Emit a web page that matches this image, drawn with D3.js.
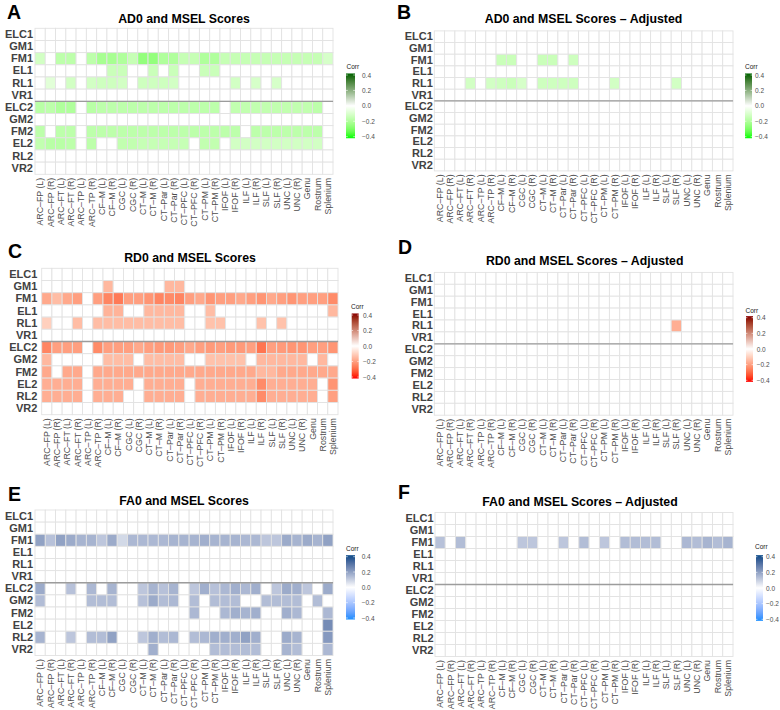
<!DOCTYPE html>
<html><head><meta charset="utf-8">
<script src="https://cdn.jsdelivr.net/npm/d3@7"></script>
<style>
body{margin:0;background:#fff}
svg{display:block}
text{font-family:"Liberation Sans",Arial,Helvetica,sans-serif}
</style>
</head><body>
<svg id="chart" width="780" height="710"></svg>
<script>
// ---------- data ----------
const tracts = ["ARC–FP (L)","ARC–FP (R)","ARC–FT (L)","ARC–FT (R)","ARC–TP (L)","ARC–TP (R)",
  "CF–M (L)","CF–M (R)","CGC (L)","CGC (R)","CT–M (L)","CT–M (R)","CT–Par (L)","CT–Par (R)",
  "CT–PFC (L)","CT–PFC (R)","CT–PM (L)","CT–PM (R)","IFOF (L)","IFOF (R)","ILF (L)","ILF (R)",
  "SLF (L)","SLF (R)","UNC (L)","UNC (R)","Genu","Rostrum","Splenium"];
const scores = ["ELC1","GM1","FM1","EL1","RL1","VR1","ELC2","GM2","FM2","EL2","RL2","VR2"];
const corrTicks = [0.4, 0.2, 0.0, -0.2, -0.4];
const titles = ["AD0 and MSEL Scores","AD0 and MSEL Scores – Adjusted","RD0 and MSEL Scores",
  "RD0 and MSEL Scores – Adjusted","FA0 and MSEL Scores","FA0 and MSEL Scores – Adjusted"];
const letters = ["A","B","C","D","E","F"];
// AD0 (rows ELC1..VR2, columns as tracts)
const ad0 = [
 [0,0,0,0,0,0,0,0,0,0,0,0,0,0,0,0,0,0,0,0,0,0,0,0,0,0,0,0,0],
 [0,0,0,0,0,0,0,0,0,0,0,0,0,0,0,0,0,0,0,0,0,0,0,0,0,0,0,0,0],
 [-.12,0,-.17,-.17,0,-.17,-.22,-.22,-.2,-.15,-.26,-.26,-.2,-.2,-.15,-.15,-.2,-.2,-.15,-.15,-.15,-.15,-.15,-.15,-.15,-.15,-.15,-.15,-.11],
 [0,0,0,0,0,0,0,-.14,-.14,0,0,-.14,0,-.14,0,0,-.14,-.14,0,0,0,0,0,0,0,0,0,0,0],
 [0,-.08,0,-.12,0,-.12,-.13,-.13,-.12,0,-.13,-.13,-.13,-.12,0,0,0,0,0,-.12,0,-.11,0,-.11,0,0,0,0,0],
 [0,0,0,0,0,0,0,0,0,0,0,0,0,0,0,0,0,0,0,0,0,0,0,0,0,0,0,0,0],
 [-.18,-.17,-.2,-.2,0,-.18,-.17,-.17,-.17,-.17,-.17,-.17,-.17,-.17,-.17,-.17,-.17,-.17,0,-.16,-.16,-.16,-.16,-.16,-.16,-.16,-.16,-.17,0],
 [0,0,0,0,0,0,0,0,0,0,0,0,0,0,0,0,0,0,0,0,0,0,0,0,0,0,0,0,0],
 [-.17,0,-.17,-.17,0,-.17,-.17,-.17,-.17,-.17,-.17,-.17,-.17,-.17,-.17,-.17,-.17,-.17,-.17,-.17,0,-.17,-.17,-.17,-.17,-.17,-.17,-.17,0],
 [-.16,-.18,-.18,-.17,0,-.17,0,0,-.16,-.16,-.15,-.15,-.15,-.15,-.15,0,-.16,-.16,0,-.12,-.12,-.12,-.12,-.12,-.12,-.12,-.12,-.12,0],
 [0,0,0,0,0,0,0,0,0,0,0,0,0,0,0,0,0,0,0,0,0,0,0,0,0,0,0,0,0],
 [0,0,0,0,0,0,0,0,0,0,0,0,0,0,0,0,0,0,0,0,0,0,0,0,0,0,0,0,0]
];
const ad0Adj = [
 [0,0,0,0,0,0,0,0,0,0,0,0,0,0,0,0,0,0,0,0,0,0,0,0,0,0,0,0,0],
 [0,0,0,0,0,0,0,0,0,0,0,0,0,0,0,0,0,0,0,0,0,0,0,0,0,0,0,0,0],
 [0,0,0,0,0,0,-.14,-.14,0,0,-.14,-.14,0,-.13,0,0,0,0,0,0,0,0,0,0,0,0,0,0,0],
 [0,0,0,0,0,0,0,0,0,0,0,0,0,0,0,0,0,0,0,0,0,0,0,0,0,0,0,0,0],
 [0,0,0,-.12,0,-.12,-.13,-.14,-.11,0,-.13,-.13,-.13,-.13,0,0,0,-.12,0,0,0,0,0,-.12,0,0,0,0,0],
 [0,0,0,0,0,0,0,0,0,0,0,0,0,0,0,0,0,0,0,0,0,0,0,0,0,0,0,0,0],
 [0,0,0,0,0,0,0,0,0,0,0,0,0,0,0,0,0,0,0,0,0,0,0,0,0,0,0,0,0],
 [0,0,0,0,0,0,0,0,0,0,0,0,0,0,0,0,0,0,0,0,0,0,0,0,0,0,0,0,0],
 [0,0,0,0,0,0,0,0,0,0,0,0,0,0,0,0,0,0,0,0,0,0,0,0,0,0,0,0,0],
 [0,0,0,0,0,0,0,0,0,0,0,0,0,0,0,0,0,0,0,0,0,0,0,0,0,0,0,0,0],
 [0,0,0,0,0,0,0,0,0,0,0,0,0,0,0,0,0,0,0,0,0,0,0,0,0,0,0,0,0],
 [0,0,0,0,0,0,0,0,0,0,0,0,0,0,0,0,0,0,0,0,0,0,0,0,0,0,0,0,0]
];
const rd0 = [
 [0,0,0,0,0,0,0,0,0,0,0,0,0,0,0,0,0,0,0,0,0,0,0,0,0,0,0,0,0],
 [0,0,0,0,0,0,-.15,0,0,0,0,0,-.15,-.15,0,0,0,0,0,0,0,0,0,0,0,0,0,0,0],
 [-.18,-.14,-.18,-.2,0,-.2,-.25,-.27,-.2,-.2,-.22,-.25,-.24,-.25,-.2,-.18,-.22,-.2,-.2,-.18,-.2,-.22,-.18,-.2,-.22,-.2,-.2,-.2,-.24],
 [0,0,0,0,0,0,-.16,-.16,0,0,-.15,-.15,-.15,-.15,0,0,-.14,0,0,0,0,0,0,0,0,0,0,0,-.15],
 [-.1,0,0,-.14,0,-.14,-.14,-.14,-.14,-.14,-.14,-.14,-.14,-.14,0,0,-.13,-.13,0,0,0,-.13,0,-.13,0,0,0,0,0],
 [0,0,0,0,0,0,0,0,0,0,0,0,0,0,0,0,0,0,0,0,0,0,0,0,0,0,0,0,0],
 [-.25,-.2,-.2,-.2,0,-.24,-.2,-.2,-.2,-.18,-.2,-.21,-.21,-.2,-.18,-.2,-.21,-.2,-.21,-.21,-.2,-.28,-.2,-.21,-.22,-.22,-.2,-.2,-.22],
 [-.15,0,0,0,0,0,-.14,-.14,-.14,0,-.14,-.14,-.14,-.14,0,0,-.13,-.13,-.13,-.13,0,-.15,-.15,-.15,-.15,-.15,0,-.15,0],
 [-.18,0,-.18,-.18,0,-.18,-.18,-.18,-.18,-.18,-.18,-.18,-.18,-.18,-.18,-.18,-.18,-.18,-.18,-.18,-.18,-.15,-.15,-.18,-.18,-.18,-.18,-.18,-.18],
 [-.17,-.17,-.17,-.17,0,-.17,-.17,-.17,-.17,0,-.17,-.17,-.17,-.17,0,-.17,-.17,-.17,-.17,-.17,-.17,-.24,-.17,-.17,-.17,-.17,-.17,0,-.22],
 [-.17,-.17,-.17,-.17,0,-.17,-.17,-.17,0,0,-.17,-.17,-.17,-.17,0,-.17,-.17,-.17,-.17,-.17,-.17,-.24,-.17,-.17,-.17,-.17,-.17,0,-.2],
 [0,0,0,0,0,0,0,0,0,0,0,0,0,0,0,0,0,0,0,0,0,0,0,0,0,0,0,0,0]
];
const rd0Adj = [
 [0,0,0,0,0,0,0,0,0,0,0,0,0,0,0,0,0,0,0,0,0,0,0,0,0,0,0,0,0],
 [0,0,0,0,0,0,0,0,0,0,0,0,0,0,0,0,0,0,0,0,0,0,0,0,0,0,0,0,0],
 [0,0,0,0,0,0,0,0,0,0,0,0,0,0,0,0,0,0,0,0,0,0,0,0,0,0,0,0,0],
 [0,0,0,0,0,0,0,0,0,0,0,0,0,0,0,0,0,0,0,0,0,0,0,0,0,0,0,0,0],
 [0,0,0,0,0,0,0,0,0,0,0,0,0,0,0,0,0,0,0,0,0,0,0,-.17,0,0,0,0,0],
 [0,0,0,0,0,0,0,0,0,0,0,0,0,0,0,0,0,0,0,0,0,0,0,0,0,0,0,0,0],
 [0,0,0,0,0,0,0,0,0,0,0,0,0,0,0,0,0,0,0,0,0,0,0,0,0,0,0,0,0],
 [0,0,0,0,0,0,0,0,0,0,0,0,0,0,0,0,0,0,0,0,0,0,0,0,0,0,0,0,0],
 [0,0,0,0,0,0,0,0,0,0,0,0,0,0,0,0,0,0,0,0,0,0,0,0,0,0,0,0,0],
 [0,0,0,0,0,0,0,0,0,0,0,0,0,0,0,0,0,0,0,0,0,0,0,0,0,0,0,0,0],
 [0,0,0,0,0,0,0,0,0,0,0,0,0,0,0,0,0,0,0,0,0,0,0,0,0,0,0,0,0],
 [0,0,0,0,0,0,0,0,0,0,0,0,0,0,0,0,0,0,0,0,0,0,0,0,0,0,0,0,0]
];
const fa0 = [
 [0,0,0,0,0,0,0,0,0,0,0,0,0,0,0,0,0,0,0,0,0,0,0,0,0,0,0,0,0],
 [0,0,0,0,0,0,0,0,0,0,0,0,0,0,0,0,0,0,0,0,0,0,0,0,0,0,0,0,0],
 [.2,.13,.2,.18,.16,.16,.12,.18,.08,.15,.15,.15,.15,.16,.16,.16,.17,.16,.16,.16,.15,.15,.12,.12,.18,.16,.18,.16,.2],
 [0,0,0,0,0,0,0,0,0,0,0,0,0,0,0,0,0,0,0,0,0,0,0,0,0,0,0,0,0],
 [0,0,0,0,0,0,0,0,0,0,0,0,0,0,0,0,0,0,0,0,0,0,0,0,0,0,0,0,0],
 [0,0,0,0,0,0,0,0,0,0,0,0,0,0,0,0,0,0,0,0,0,0,0,0,0,0,0,0,0],
 [.18,0,0,.13,0,.15,0,.16,0,0,.12,.16,.13,.16,0,.12,.17,.13,.15,.17,.15,.17,0,.12,.18,.17,.12,0,.18],
 [.14,0,0,0,0,.14,.14,.14,0,0,.13,.18,.14,.15,0,.14,0,.14,.14,.14,0,0,.14,.14,.14,.14,0,.14,0],
 [0,0,0,0,0,0,0,0,0,0,0,0,0,0,0,.15,0,0,.15,.17,.16,.17,0,0,.17,.15,0,0,.15],
 [0,0,0,0,0,0,0,0,0,0,0,0,0,0,0,0,0,0,0,0,0,0,0,0,0,0,0,0,.25],
 [.16,0,0,.12,0,.14,.14,.2,0,0,.12,.17,.14,.15,0,.14,.15,.17,.17,.17,.2,.17,0,0,.18,.16,0,0,.22],
 [0,0,0,0,0,0,0,0,0,0,0,.17,0,0,0,0,0,.14,.14,.14,.14,.14,0,0,.16,.14,0,0,.15]
];
const fa0Adj = [
 [0,0,0,0,0,0,0,0,0,0,0,0,0,0,0,0,0,0,0,0,0,0,0,0,0,0,0,0,0],
 [0,0,0,0,0,0,0,0,0,0,0,0,0,0,0,0,0,0,0,0,0,0,0,0,0,0,0,0,0],
 [.13,0,.14,0,0,0,0,0,.12,.12,0,0,.12,0,.14,0,.12,0,.14,.14,.14,.14,0,0,.15,.14,.16,.14,.16],
 [0,0,0,0,0,0,0,0,0,0,0,0,0,0,0,0,0,0,0,0,0,0,0,0,0,0,0,0,0],
 [0,0,0,0,0,0,0,0,0,0,0,0,0,0,0,0,0,0,0,0,0,0,0,0,0,0,0,0,0],
 [0,0,0,0,0,0,0,0,0,0,0,0,0,0,0,0,0,0,0,0,0,0,0,0,0,0,0,0,0],
 [0,0,0,0,0,0,0,0,0,0,0,0,0,0,0,0,0,0,0,0,0,0,0,0,0,0,0,0,0],
 [0,0,0,0,0,0,0,0,0,0,0,0,0,0,0,0,0,0,0,0,0,0,0,0,0,0,0,0,0],
 [0,0,0,0,0,0,0,0,0,0,0,0,0,0,0,0,0,0,0,0,0,0,0,0,0,0,0,0,0],
 [0,0,0,0,0,0,0,0,0,0,0,0,0,0,0,0,0,0,0,0,0,0,0,0,0,0,0,0,0],
 [0,0,0,0,0,0,0,0,0,0,0,0,0,0,0,0,0,0,0,0,0,0,0,0,0,0,0,0,0],
 [0,0,0,0,0,0,0,0,0,0,0,0,0,0,0,0,0,0,0,0,0,0,0,0,0,0,0,0,0]
];

// ---------- drawing ----------
const svg = d3.select("#chart");
const defs = svg.append("defs");
const palettes = {
  green: ["#00FF00","#FFFFFF","#006400"],
  red:   ["#FF0000","#FFFFFF","#8B0000"],
  blue:  ["#1E90FF","#FFFFFF","#104E8B"]
};
const panels = [
  {values: ad0,    pal:"green", x0:35,    x1:333, y0:28.3,  y1:174.3, gap:2,   tY:22.7,  tX:184,   lX:7,   lY:18.5,  cX:346.5, cY:69,  bX:346,   bW:9, bT:75,    bB:136.7, tlX:362},
  {values: ad0Adj, pal:"green", x0:434.3, x1:733, y0:30.9,  y1:170.9, gap:1.5, tY:23.3,  tX:583.5, lX:397, lY:18.5,  cX:745,   cY:69,  bX:745,   bW:7, bT:75,    bB:136.7, tlX:755},
  {values: rd0,    pal:"red",   x0:41.7,  x1:338, y0:268.3, y1:414.7, gap:4.3, tY:262.3, tX:190,   lX:8,   lY:257.5, cX:351,   cY:309, bX:351.7, bW:7, bT:315,   bB:377,   tlX:363},
  {values: rd0Adj, pal:"red",   x0:434.3, x1:733, y0:272.4, y1:415.2, gap:1.5, tY:265,   tX:584.7, lX:398, lY:254,   cX:745.5, cY:313, bX:746,   bW:7, bT:317.7, bB:380.3, tlX:756.7},
  {values: fa0,    pal:"blue",  x0:35,    x1:333, y0:510,   y1:655.5, gap:2,   tY:505,   tX:184,   lX:8,   lY:500.5, cX:346,   cY:551, bX:346,   bW:9, bT:556.7, bB:618,   tlX:361.7},
  {values: fa0Adj, pal:"blue",  x0:435,   x1:733, y0:512.5, y1:656.5, gap:1.5, tY:506,   tX:580,   lX:398, lY:498.5, cX:755,   cY:549, bX:756,   bW:7, bT:556.7, bB:619.3, tlX:766}
];

panels.forEach((p, i) => {
  const color = d3.scaleLinear().domain([-0.4, 0, 0.4]).range(palettes[p.pal])
    .interpolate(d3.interpolateLab).clamp(true);
  const x = d3.scaleBand().domain(tracts).range([p.x0, p.x1]);
  const y = d3.scaleBand().domain(scores).range([p.y0, p.y1]);
  const g = svg.append("g");

  const cells = [];
  scores.forEach((s, r) => tracts.forEach((t, c) => cells.push({s, t, v: p.values[r][c]})));
  g.selectAll("rect.cell").data(cells).join("rect")
    .attr("class","cell")
    .attr("x", d => x(d.t)).attr("y", d => y(d.s))
    .attr("width", x.bandwidth()).attr("height", y.bandwidth())
    .attr("fill", d => d.v === 0 ? "#FFFFFF" : color(d.v))
    .attr("stroke", "#e2e2e2").attr("stroke-width", 0.9);

  // separator between time points
  g.append("line")
    .attr("x1", p.x0).attr("x2", p.x1)
    .attr("y1", y("ELC2")).attr("y2", y("ELC2"))
    .attr("stroke", "#9c9c9c").attr("stroke-width", 1.3);

  // y axis
  const ya = g.append("g").attr("transform", `translate(${p.x0},0)`)
    .call(d3.axisLeft(y).tickSize(0).tickPadding(p.gap));
  ya.select(".domain").remove();
  ya.selectAll("text").attr("font-size", 11).attr("font-weight", "bold")
    .attr("fill", "#424242").attr("font-family", '"Liberation Sans",Arial,sans-serif');

  // x axis
  const xa = g.append("g").attr("transform", `translate(0,${p.y1})`)
    .call(d3.axisBottom(x).tickSize(0));
  xa.select(".domain").remove();
  xa.selectAll("text")
    .attr("transform", "rotate(-90)")
    .attr("text-anchor", "end")
    .attr("x", -3.5).attr("y", 0).attr("dy", "0.35em")
    .attr("font-size", 8.8).attr("fill", "#4d4d4d")
    .attr("font-family", '"Liberation Sans",Arial,sans-serif');

  // title + letter
  g.append("text").attr("x", p.tX).attr("y", p.tY).attr("text-anchor", "middle")
    .attr("font-size", 12.3).attr("font-weight", "bold").attr("fill", "#000").text(titles[i]);
  g.append("text").attr("x", p.lX).attr("y", p.lY)
    .attr("font-size", 19.5).attr("font-weight", "bold").attr("fill", "#000").text(letters[i]);

  // legend
  const ly = d3.scaleLinear().domain([-0.4, 0.4]).range([p.bB, p.bT]);
  const gid = "grad" + i;
  const grad = defs.append("linearGradient").attr("id", gid)
    .attr("x1", 0).attr("x2", 0).attr("y1", 1).attr("y2", 0);
  d3.range(0, 1.0001, 0.05).forEach(t => {
    grad.append("stop").attr("offset", t).attr("stop-color", color(-0.42 + t * 0.84));
  });
  g.append("rect").attr("x", p.bX).attr("y", ly(0.42)).attr("width", p.bW)
    .attr("height", ly(-0.42) - ly(0.42)).attr("fill", `url(#${gid})`);
  corrTicks.forEach(v => {
    g.append("line").attr("x1", p.bX).attr("x2", p.bX + p.bW * 0.2)
      .attr("y1", ly(v)).attr("y2", ly(v)).attr("stroke", "#fff").attr("stroke-width", 0.6);
    g.append("line").attr("x1", p.bX + p.bW * 0.8).attr("x2", p.bX + p.bW)
      .attr("y1", ly(v)).attr("y2", ly(v)).attr("stroke", "#fff").attr("stroke-width", 0.6);
  });
  const la = g.append("g").attr("transform", `translate(${p.tlX},0)`)
    .call(d3.axisRight(ly).tickValues(corrTicks).tickSize(0).tickPadding(0).tickFormat(d3.format(".1f")));
  la.select(".domain").remove();
  la.selectAll("text").attr("font-size", 6.5).attr("fill", "#4d4d4d")
    .attr("font-family", '"Liberation Sans",Arial,sans-serif');
  g.append("text").attr("x", p.cX).attr("y", p.cY).attr("font-size", 6.5)
    .attr("fill", "#222").text("Corr");
});
</script>
</body></html>
